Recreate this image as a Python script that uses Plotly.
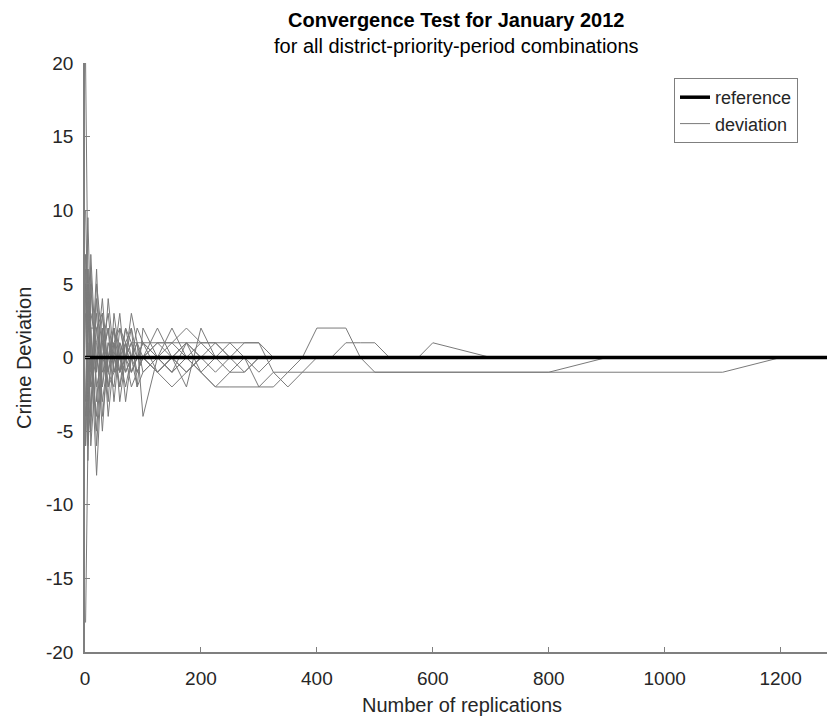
import plotly.graph_objects as go

# Replication counts at which the deviation was evaluated
reps = [1, 5, 10, 20, 30, 40, 50, 60, 70, 80, 90, 100, 125, 150, 175, 200, 225, 250,
        275, 300, 325, 350, 375, 400, 425, 450, 475, 500, 525, 550, 575, 600, 700,
        800, 900, 1000, 1100, 1200, 1300]

# Deviation series (one per district-priority-period combination)
dev_a = [20, 5, 2, 2, -2, 1, 0, -1, 1, 0, -1, 0, 1, 0, -1, 0, 0, 0, 0, -2, -1, -1, -1,
         -1, -1, -1, -1, -1, -1, -1, -1, -1, -1, -1, -1, -1, -1, 0, 0]
dev_b = [-18, -6, -3, 2, 3, -2, 1, 2, 0, -1, 0, 1, 0, -1, 0, 1, 1, 0, 0, 0, 0, 0, 0,
         0, 0, 0, 0, -1, -1, -1, -1, -1, -1, -1, 0, 0, 0, 0, 0]
dev_c = [6, -4, 2, -5, 1, 3, -1, 0, 2, 1, 1, -4, 0, 1, 2, 1, 0, -1, -1, 0, 0, 0, 0,
         2, 2, 2, 0, 0, 0, 0, 0, 0, 0, 0, 0, 0, 0, 0, 0]
dev_d = [10, 3, -2, 0, 4, -1, 2, 0, -2, 0, 1, 0, -1, 0, 1, 0, 0, 0, 1, 1, -1, -2, -1,
         0, 0, 1, 1, 1, 0, 0, 0, 0, 0, 0, 0, 0, 0, 0, 0]
dev_e = [-4, 5, -1, 3, -3, 0, 2, -1, 0, 1, 0, 0, 1, 1, 0, 0, -1, 0, 0, 0, 0, 0, 0,
         0, 0, 0, 0, 0, 0, 0, 0, 1, 0, 0, 0, 0, 0, 0, 0]
dev_f = [3, -6, 5, -2, 0, 2, -3, 1, 0, 3, 1, 1, 1, 1, 1, 1, 1, 1, 1, 1, 0, 0, 0,
         0, 0, 0, 0, 0, 0, 0, 0, 0, 0, 0, 0, 0, 0, 0, 0]
dev_g = [-6, 2, 6, -3, 2, -4, 0, 3, -1, 0, -2, -1, 0, 2, 0, -1, -2, -2, -2, -2, -2, -1, 0,
         0, 0, 0, 0, 0, 0, 0, 0, 0, 0, 0, 0, 0, 0, 0, 0]
dev_h = [7, -2, -5, 4, -1, 0, 1, -2, 1, 2, 0, 0, 2, 0, -2, 2, 0, 0, 0, 0, 0, 0, 0,
         0, 0, 0, 0, 0, 0, 0, 0, 0, 0, 0, 0, 0, 0, 0, 0]
dev_i = [-3, 6, 1, -8, 0, 2, -1, 0, 1, -1, 0, 1, -1, -2, -1, 0, 1, 0, -1, 0, 0, 0, 0,
         0, 0, 0, 0, 0, 0, 0, 0, 0, 0, 0, 0, 0, 0, 0, 0]
dev_j = [5, -7, 3, 1, -5, 1, 0, -1, 0, -2, -1, 0, -1, 0, 1, -1, -2, -1, 0, 0, 0, 0, 0,
         0, 0, 0, 0, 0, 0, 0, 0, 0, 0, 0, 0, 0, 0, 0, 0]
dev_k = [-5, 4, 0, -4, 2, -3, 3, 0, -1, 0, 2, 1, 0, -1, 0, 0, 0, 0, 0, 0, 0, 0, 0,
         0, 0, 0, 0, 0, 0, 0, 0, 0, 0, 0, 0, 0, 0, 0, 0]
dev_l = [7, 0, -4, 5, 1, -2, -1, 1, -3, 0, 1, -1, 0, 0, 0, -1, 0, 0, 0, 0, 0, 0, 0,
         0, 0, 0, 0, 0, 0, 0, 0, 0, 0, 0, 0, 0, 0, 0, 0]
dev_m = [-6, 6, -6, 0, -2, 4, 0, -2, 0, 1, -1, 0, -1, 0, 0, 0, 0, 0, 0, 0, 0, 0, 0,
         0, 0, 0, 0, 0, 0, 0, 0, 0, 0, 0, 0, 0, 0, 0, 0]
dev_n = [4, -3, 7, -1, 3, -1, -2, 2, 1, -1, 0, 0, 0, -1, 1, 0, 0, 1, 0, -1, 0, 0, 0,
         0, 0, 0, 0, 0, 0, 0, 0, 0, 0, 0, 0, 0, 0, 0, 0]
dev_o = [-6, 1, -2, 6, -4, 0, 2, -3, 0, 2, -2, 2, 0, -1, 0, 0, 0, 0, 0, 0, 0, 0, 0,
         0, 0, 0, 0, 0, 0, 0, 0, 0, 0, 0, 0, 0, 0, 0, 0]
dev_p = [4, 9.5, 2, -6, 0, -1, 1, -1, 2, 0, 0, 0, 0, 0, -1, 0, 0, 0, 0, 0, 0, 0, 0,
         0, 0, 0, 0, 0, 0, 0, 0, 0, 0, 0, 0, 0, 0, 0, 0]

deviations = [dev_a, dev_b, dev_c, dev_d, dev_e, dev_f, dev_g, dev_h,
              dev_i, dev_j, dev_k, dev_l, dev_m, dev_n, dev_o, dev_p]

# Reference (zero deviation) line
ref_x = [0, 1300]
ref_y = [0, 0]

x_ticks = [0, 200, 400, 600, 800, 1000, 1200]
y_ticks = [-20, -15, -10, -5, 0, 5, 10, 15, 20]
y_tick_labels = ["-20", "-15", "-10", "-5", "0", "5", "10", "15", "20"]

FONT = "Liberation Sans, Arial, Helvetica, sans-serif"
W, H = 827, 719
L, R, T, B = 85, 0, 63, 67

fig = go.Figure()
for i, d in enumerate(deviations):
    fig.add_trace(go.Scatter(
        x=reps, y=d, mode="lines", name="deviation",
        line=dict(color="#7a7a7a", width=1),
        legendgroup="dev", showlegend=(i == 0), legendrank=2,
        hoverinfo="skip"))
fig.add_trace(go.Scatter(
    x=ref_x, y=ref_y, mode="lines", name="reference",
    line=dict(color="black", width=3.5), legendrank=1))

axis_common = dict(
    showline=True, linecolor="#7f7f7f", linewidth=1.5,
    ticks="inside", ticklen=5, tickcolor="#7f7f7f", tickwidth=1,
    showgrid=False, zeroline=False,
    tickfont=dict(family=FONT, size=19, color="#262626"),
)
fig.update_xaxes(range=[0, 1280], tickvals=x_ticks, ticklabelstandoff=8, **axis_common)
fig.update_yaxes(range=[-20, 20], tickvals=y_ticks, ticktext=y_tick_labels,
                 ticklabelstandoff=6, **axis_common)

pw = W - L - R
ph = H - T - B

def px_x(px):
    return (px - L) / pw

def px_y(py):
    return (H - B - py) / ph

fig.update_layout(
    width=W, height=H,
    margin=dict(l=L, r=R, t=T, b=B),
    plot_bgcolor="white", paper_bgcolor="white",
    font=dict(family=FONT, color="#262626"),
    legend=dict(
        x=px_x(798), y=px_y(78), xanchor="right", yanchor="top",
        bgcolor="white", bordercolor="#7f7f7f", borderwidth=1,
        font=dict(family=FONT, size=18, color="#262626"),
        tracegroupgap=0,
    ),
    annotations=[
        dict(text="<b>Convergence Test for January 2012</b>", xref="paper", yref="paper",
             x=0.5, y=px_y(20), xanchor="center", yanchor="middle", showarrow=False,
             font=dict(family=FONT, size=20, color="black")),
        dict(text="for all district-priority-period combinations", xref="paper", yref="paper",
             x=0.5, y=px_y(46), xanchor="center", yanchor="middle", showarrow=False,
             font=dict(family=FONT, size=20, color="black")),
        dict(text="Number of replications", xref="paper", yref="paper",
             x=px_x(462), y=px_y(705), xanchor="center", yanchor="middle", showarrow=False,
             font=dict(family=FONT, size=20, color="#262626")),
        dict(text="Crime Deviation", xref="paper", yref="paper", textangle=-90,
             x=px_x(24), y=px_y(358), xanchor="center", yanchor="middle", showarrow=False,
             font=dict(family=FONT, size=20, color="#262626")),
    ],
)

fig.write_html("out.html")
